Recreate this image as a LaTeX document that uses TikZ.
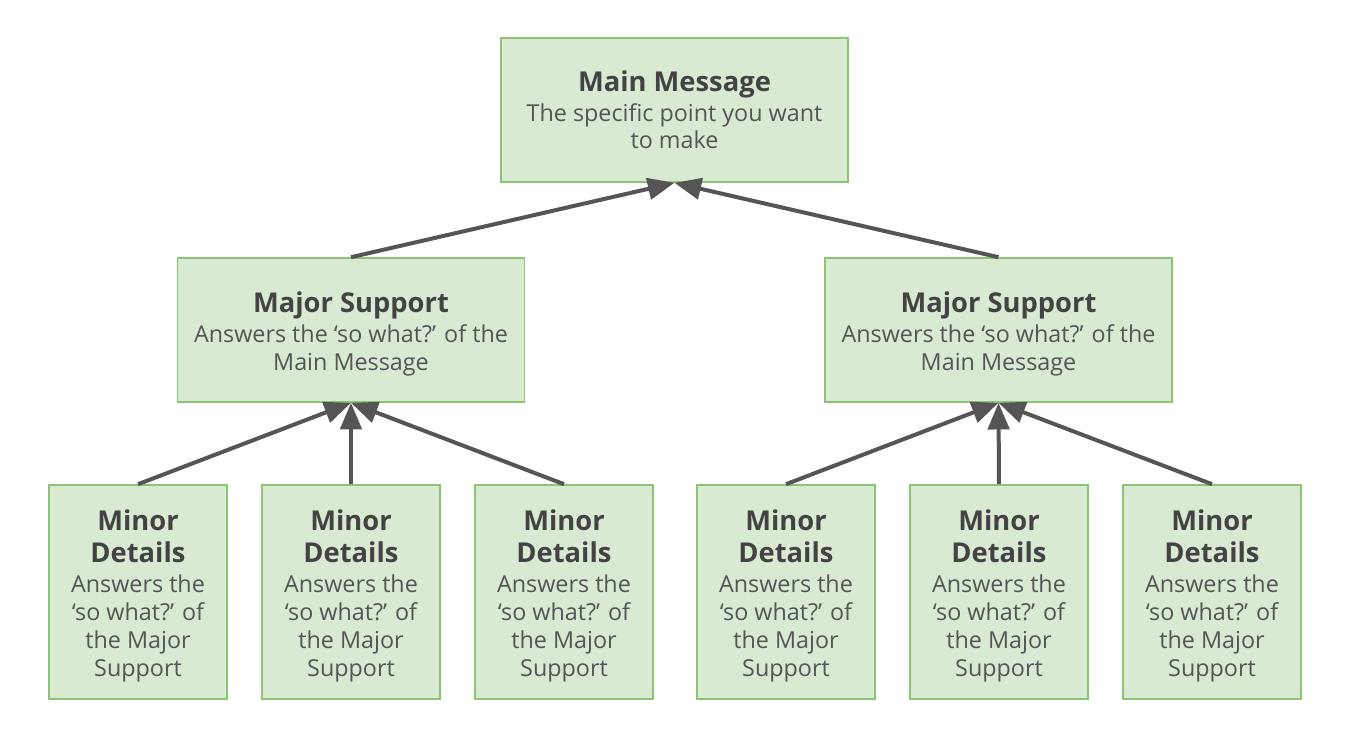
\documentclass[tikz,border=0pt]{standalone}
\usepackage{fontspec}
\setmainfont{Open Sans}
\usetikzlibrary{arrows.meta}
\definecolor{boxfill}{HTML}{D9EAD3}
\definecolor{boxline}{HTML}{8CC474}
\definecolor{arrowcol}{HTML}{555555}
\definecolor{titlecol}{HTML}{434343}
\definecolor{bodycol}{HTML}{555555}
\newcommand{\ttl}[1]{{\color{titlecol}\bfseries\fontsize{20.5}{21}\selectfont #1}}
\begin{document}
\begin{tikzpicture}[x=0.75pt,y=-0.75pt,
  box/.style={draw=boxline, fill=boxfill, line width=1.2pt, inner sep=0pt},
  txt/.style={align=center, inner sep=0pt, text=bodycol, font=\fontsize{17.5}{21}\selectfont},
  bigbox/.style={box, minimum width=260pt, minimum height=108pt},
  smallbox/.style={box, minimum width=133.5pt, minimum height=160.5pt},
  conn/.style={draw=arrowcol, line width=3pt, -{Triangle[length=20pt,width=16pt]}}
]
\useasboundingbox (0,0) rectangle (1350,743);

\node[bigbox] (mm) at (674.5,110) {};
\node[txt] (mmt) at (674.5,110) {\ttl{Main Message}\\[1pt]The specific point you want\\[-0.5pt]to make};
\node[bigbox] (ml) at (351,330) {};
\node[txt] (mlt) at (351,334) {\ttl{Major Support}\\[1pt]Answers the ‘so what?’ of the\\Main Message};
\node[bigbox] (mr) at (998.5,330) {};
\node[txt] (mrt) at (998.5,334) {\ttl{Major Support}\\[1pt]Answers the ‘so what?’ of the\\Main Message};

\foreach \n/\x in {a1/138, a2/351, a3/564, b1/786, b2/999, b3/1212}{
  \node[smallbox] (\n) at (\x,592) {};
  \node[txt] (\n t) at (\x,596) {\ttl{Minor}\\[3pt]\ttl{Details}\\[1pt]Answers the\\‘so what?’ of\\the Major\\Support};
}

\draw[conn] (ml.north) -- (mm.south);
\draw[conn] (mr.north) -- (mm.south);
\draw[conn] (a1.north) -- (ml.south);
\draw[conn] (a2.north) -- (ml.south);
\draw[conn] (a3.north) -- (ml.south);
\draw[conn] (b1.north) -- (mr.south);
\draw[conn] (b2.north) -- (mr.south);
\draw[conn] (b3.north) -- (mr.south);
\end{tikzpicture}
\end{document}
